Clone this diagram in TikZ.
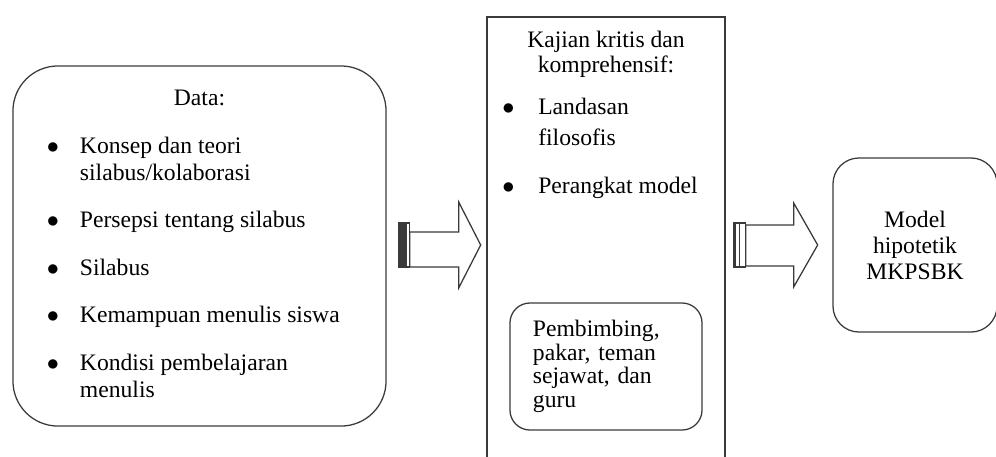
\documentclass[tikz,border=0pt]{standalone}
\usepackage{fontspec}
\setmainfont{Liberation Serif}
\usepackage{array}
\usetikzlibrary{calc}
\definecolor{Edge}{HTML}{3A3A3A}
\newcommand{\itemgap}{\noalign{\vskip 14.6pt}}
\newcommand{\listdot}{$\bullet$}

\begin{document}
\begin{tikzpicture}[x=0.025cm,y=-0.025cm,
      box/.style={draw=Edge,line width=0.9pt,inner sep=0pt},
      roundbox/.style={box,rounded corners=#1},
      txt/.style={font=\fontsize{16.8}{19.2}\selectfont,inner sep=0pt},
      arrowline/.style={draw=Edge,line width=0.9pt,fill=white,line join=miter}]
      \useasboundingbox (0,0) rectangle (996,456);
      \node[roundbox=1.125cm,txt,minimum width=9.325cm,minimum height=9cm] (data) at (199.5,246) {%
        \begin{tabular}{@{}p{0.825cm}@{}>{\raggedright\arraybackslash}p{6.8cm}@{}}
          \multicolumn{2}{@{}c@{}}{Data:}\\\itemgap
          \listdot & Konsep dan teori\newline silabus/kolaborasi\\\itemgap
          \listdot & Persepsi tentang silabus\\\itemgap
          \listdot & Silabus\\\itemgap
          \listdot & Kemampuan menulis siswa\\\itemgap
          \listdot & Kondisi pembelajaran\newline menulis
        \end{tabular}};
      \node[box,minimum width=5.95cm,minimum height=11.325cm] (kajbox) at (606,243.5) {};
      \node[txt,font=\fontsize{16.8}{17.7}\selectfont,align=center,anchor=north] (kajian) at (606,31)
        {Kajian kritis dan\\komprehensif:};
      \node[txt,font=\fontsize{16.8}{22}\selectfont,anchor=north west] (kajlist) at (502,93) {%
        \begin{tabular}{@{}p{0.9cm}@{}>{\raggedright\arraybackslash}p{4cm}@{}}
          \listdot & Landasan\newline filosofis\\\noalign{\vskip 12pt}
          \listdot & Perangkat model
        \end{tabular}};
      \node[roundbox=0.5cm,txt,font=\fontsize{16.8}{16.7}\selectfont,minimum width=4.8cm,minimum height=3.175cm,
        text width=3.65cm,align=left] (pakar) at (606,366.5) {Pembimbing,\\pakar, teman\\sejawat, dan\\guru};
      \node[roundbox=0.65cm,txt,font=\fontsize{16.8}{18.5}\selectfont,minimum width=4.1cm,minimum height=4.35cm,
        align=center] (model) at (915,245) {Model\\hipotetik\\MKPSBK};
      \begin{scope}[shift={($(data.east)+(12,-1)$)}]
        \filldraw[arrowline] (11,-13) -- (60,-13) -- (60,-43) -- (82,0) -- (60,43) -- (60,22) -- (11,22) -- cycle;
        \filldraw[arrowline] (0,-22) rectangle (11,22);
        \fill[Edge] (0,-22) rectangle (8,22);
      \end{scope}
      \begin{scope}[shift={($(kajbox.east)+(8,1.5)$)}]
        \filldraw[arrowline] (12,-20) -- (60,-20) -- (60,-42) -- (84,0) -- (60,42) -- (60,21) -- (12,21) -- cycle;
        \filldraw[arrowline] (0,-22) rectangle (12,22);
        \fill[Edge] (0,-22) rectangle (2.5,22);
        \draw[Edge,line width=0.9pt] (5.5,-22) -- (5.5,22);
      \end{scope}
    \end{tikzpicture}
\end{document}
